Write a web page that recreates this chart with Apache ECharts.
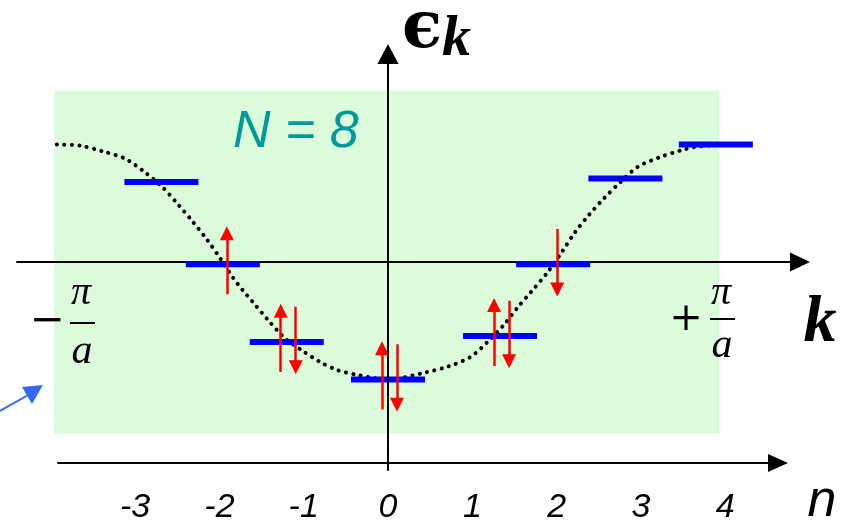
<!DOCTYPE html>
<html><head><meta charset="utf-8">
<script src="https://cdn.jsdelivr.net/npm/echarts@6/dist/echarts.min.js"></script>
<style>html,body{margin:0;padding:0;background:#fff}#c{width:843px;height:525px}</style>
</head><body><div id="c"></div>
<script>
// Energy levels for N = 8 (k in units of pi/(4a), energy in units of 2t)
const levelN   = [-3, -2, -1, 0, 1, 2, 3, 4];
const levelK   = [-2.73, -1.99, -1.22, 0, 1.35, 1.99, 2.86, 3.95];
const levelE   = [0.68, -0.02, -0.68, -1.0, -0.63, -0.02, 0.71, 1.0];
const spinUp   = [0, 1, 1, 1, 1, 0, 0, 0];
const spinDown = [0, 0, 1, 1, 1, 1, 0, 0];
// dotted dispersion curve
const curveK = [-3.99,-3.71,-3.43,-3.17,-2.94,-2.72,-2.53,-2.36,-2.18,-2.02,-1.87,-1.75,-1.63,-1.45,-1.24,-1.02,-0.82,-0.61,-0.37,0,0.45,0.72,0.99,1.20,1.39,1.57,1.73,1.92,2.10,2.25,2.42,2.60,2.80,3.01,3.27,3.53,3.71,4.0];
const curveE = [1.00,0.99,0.94,0.88,0.77,0.64,0.49,0.35,0.19,0.03,-0.13,-0.24,-0.34,-0.49,-0.65,-0.76,-0.85,-0.92,-0.96,-1.00,-0.94,-0.89,-0.81,-0.68,-0.54,-0.38,-0.25,-0.09,0.09,0.25,0.40,0.54,0.68,0.81,0.89,0.95,0.98,1.0];
// first Brillouin zone box
const zoneK = [-4.02, 3.99];
const zoneE = [-1.46, 1.46];
// n tick labels
const nTicks = [-3, -2, -1, 0, 1, 2, 3, 4];

const chart = echarts.init(document.getElementById('c'), null, {renderer: 'canvas'});

const pxK = 1 / 83;
const arrows = [];
levelK.forEach((k, i) => {
  const e = levelE[i];
  const both = spinUp[i] && spinDown[i];
  if (spinUp[i]) {
    const x = k + (both ? -6 * pxK : 4 * pxK);
    arrows.push({coords: [[x, e - 0.255], [x, e + 0.265]]});
  }
  if (spinDown[i]) {
    const x = k + (both ? 9 * pxK : 4 * pxK);
    arrows.push({coords: [[x, e + 0.30], [x, e - 0.215]]});
  }
});

const mathFont = 'Liberation Serif';
chart.setOption({
  animation: false,
  grid: [
    {left: 17, right: 43, top: 54, bottom: 55},
    {left: 58, right: 65, top: 460, height: 6}
  ],
  xAxis: [
    {gridIndex: 0, type: 'value', min: -4.47, max: 4.964, z: 0,
     axisLine: {onZero: true, symbol: ['none', 'triangle'], symbolSize: [19, 20], lineStyle: {color: '#000', width: 2}},
     axisTick: {show: false}, axisLabel: {show: false}, splitLine: {show: false}},
    {gridIndex: 1, type: 'value', min: -3.915, max: 4.626, position: 'bottom',
     axisLine: {onZero: false, symbol: ['none', 'triangle'], symbolSize: [18, 20], lineStyle: {color: '#000', width: 2}},
     axisTick: {show: false}, splitLine: {show: false},
     axisLabel: {customValues: nTicks, fontStyle: 'italic', fontFamily: 'Liberation Sans', fontSize: 34, color: '#000', margin: 28}}
  ],
  yAxis: [
    {gridIndex: 0, type: 'value', min: -1.77, max: 1.77, z: 3,
     axisLine: {onZero: true, symbol: ['none', 'triangle'], symbolSize: [21, 20], lineStyle: {color: '#000', width: 2}},
     axisTick: {show: false}, axisLabel: {show: false}, splitLine: {show: false}},
    {gridIndex: 1, type: 'value', show: false, min: 0, max: 1}
  ],
  series: [
    {type: 'custom', xAxisIndex: 0, yAxisIndex: 0, z: -1, silent: true,
     data: [[zoneK[0], zoneE[0], zoneK[1], zoneE[1]]],
     renderItem: function (params, api) {
       const p1 = api.coord([api.value(0), api.value(3)]);
       const p2 = api.coord([api.value(2), api.value(1)]);
       return {type: 'rect', shape: {x: p1[0], y: p1[1], width: p2[0] - p1[0], height: p2[1] - p1[1]},
               style: {fill: '#dbfbdb'}};
     }},
    {type: 'line', xAxisIndex: 0, yAxisIndex: 0, z: 1, silent: true, smooth: 0.3, showSymbol: false,
     data: curveK.map((k, i) => [k, curveE[i]]),
     lineStyle: {color: '#000', width: 4, type: [0.1, 7.4], cap: 'round'}},
    {type: 'scatter', xAxisIndex: 0, yAxisIndex: 0, z: 2, silent: true,
     data: levelK.map((k, i) => [k, levelE[i], levelN[i]]),
     symbol: 'rect', symbolSize: [74, 6], itemStyle: {color: '#0000ff', opacity: 1}},
    {type: 'lines', coordinateSystem: 'cartesian2d', xAxisIndex: 0, yAxisIndex: 0, z: 4, silent: true,
     symbol: ['none', 'triangle'], symbolSize: 14,
     lineStyle: {color: '#ff0000', width: 2.5, opacity: 1},
     data: arrows}
  ],
  graphic: [
    {type: 'text', x: 402, y: 30, z: 10, style: {text: 'ϵ', font: 'bold 66px DejaVu Serif', fill: '#000', textAlign: 'left', textVerticalAlign: 'middle'}},
    {type: 'text', x: 442, y: 40, z: 10, style: {text: 'k', font: 'bold italic 58px ' + mathFont, fill: '#000', textAlign: 'left', textVerticalAlign: 'middle'}},
    {type: 'text', x: 233, y: 133, z: 10, style: {text: 'N = 8', font: 'italic 52px Liberation Sans', fill: '#00999a', textAlign: 'left', textVerticalAlign: 'middle'}},
    {type: 'text', x: 47, y: 322, z: 10, style: {text: '−', font: '42px DejaVu Serif', fill: '#000', textAlign: 'center', textVerticalAlign: 'middle'}},
    {type: 'text', x: 81, y: 293, z: 10, style: {text: 'π', font: 'italic 40px ' + mathFont, fill: '#000', textAlign: 'center', textVerticalAlign: 'middle'}},
    {type: 'rect', z: 10, shape: {x: 70, y: 322, width: 25, height: 2}, style: {fill: '#000'}},
    {type: 'text', x: 82, y: 352, z: 10, style: {text: 'a', font: 'italic 42px ' + mathFont, fill: '#000', textAlign: 'center', textVerticalAlign: 'middle'}},
    {type: 'text', x: 686, y: 320, z: 10, style: {text: '+', font: '40px DejaVu Serif', fill: '#000', textAlign: 'center', textVerticalAlign: 'middle'}},
    {type: 'text', x: 721, y: 293, z: 10, style: {text: 'π', font: 'italic 40px ' + mathFont, fill: '#000', textAlign: 'center', textVerticalAlign: 'middle'}},
    {type: 'rect', z: 10, shape: {x: 710, y: 318, width: 25, height: 2}, style: {fill: '#000'}},
    {type: 'text', x: 722, y: 346, z: 10, style: {text: 'a', font: 'italic 42px ' + mathFont, fill: '#000', textAlign: 'center', textVerticalAlign: 'middle'}},
    {type: 'text', x: 820, y: 324, z: 10, style: {text: 'k', font: 'bold italic 66px ' + mathFont, fill: '#000', textAlign: 'center', textVerticalAlign: 'middle'}},
    {type: 'text', x: 822, y: 502, z: 10, style: {text: 'n', font: 'italic 52px Liberation Sans', fill: '#000', textAlign: 'center', textVerticalAlign: 'middle'}},
    {type: 'line', z: 10, shape: {x1: 0, y1: 411, x2: 30, y2: 394}, style: {stroke: '#3366ff', lineWidth: 2}},
    {type: 'polygon', z: 10, shape: {points: [[22, 387], [43, 385], [32, 404]]}, style: {fill: '#3366ff'}}
  ]
});
</script>
</body></html>
